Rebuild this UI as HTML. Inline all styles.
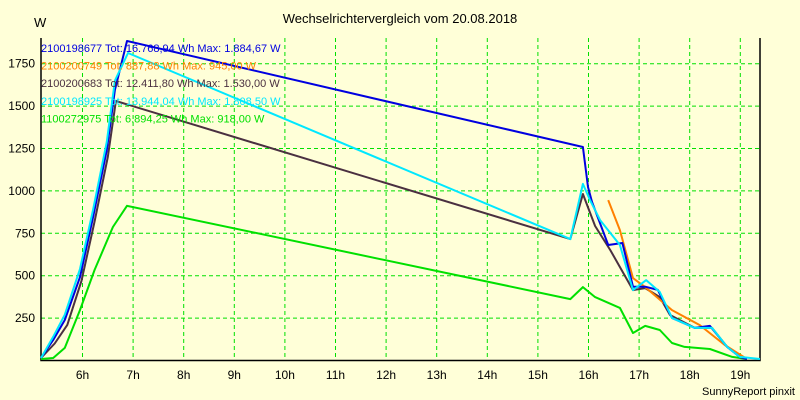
<!DOCTYPE html>
<html><head><meta charset="utf-8"><style>
body{margin:0;background:#ffffd8;}
svg{display:block;font-family:"Liberation Sans",sans-serif;}
</style></head><body>
<svg id="chart" width="800" height="400">
<rect x="0" y="0" width="800" height="400" fill="#ffffd8"/>
<text x="400" y="23" text-anchor="middle" font-size="13" fill="#000">Wechselrichtervergleich vom 20.08.2018</text>
<text x="34" y="27" font-size="13" fill="#000">W</text>
<text x="795" y="395" text-anchor="end" font-size="11" fill="#000">SunnyReport pinxit</text>
<g id="grid"></g><g id="axes"></g><g id="series"></g><g id="legend"></g>
</svg>
<script>
const yTicks=[250,500,750,1000,1250,1500,1750];
const xTicks=[6,7,8,9,10,11,12,13,14,15,16,17,18,19];
const seriesNames=["2100198677 Tot: 16.768,94 Wh Max: 1.884,67 W","2100200749 Tot: 887,88 Wh Max: 945,00 W","2100200683 Tot: 12.411,80 Wh Max: 1.530,00 W","2100198925 Tot: 13.944,04 Wh Max: 1.808,50 W","1100272975 Tot: 6.894,25 Wh Max: 918,00 W"];
const seriesColors=["#0000e0","#ff8000","#4a3040","#00e8ff","#00e000"];
const blueT=[5.18,5.42,5.65,5.95,6.21,6.48,6.64,6.88,15.89,15.99,16.07,16.39,16.67,16.88,17.12,17.37,17.65,18.1,18.4,18.74,18.99,19.13];
const blueV=[15,121,239,492,846,1241,1595,1884,1259,1023,935,681,693,435,435,416,251,192,204,80,21,9];
const orangeT=[16.39,16.62,16.88,17.12,17.65,18.2,18.69,19.13];
const orangeV=[946,769,486,433,297,209,92,9];
const darkT=[5.18,5.45,5.7,5.98,6.24,6.5,6.66,15.64,15.89,16.13,16.43,16.88,17.12,17.41,17.61,18.1,18.44,18.74,18.99,19.13];
const darkV=[15,100,210,470,820,1200,1530,716,982,793,651,415,427,374,268,192,192,80,21,9];
const cyanT=[5.18,5.42,5.65,5.95,6.21,6.48,6.64,6.9,15.64,15.89,16.03,16.23,16.62,16.88,17.14,17.41,17.65,18.1,18.44,18.74,18.99,19.39];
const cyanV=[15,140,270,540,890,1290,1650,1813,716,1041,946,828,681,415,474,404,251,192,192,80,21,9];
const greenT=[5.18,5.42,5.65,5.95,6.24,6.6,6.88,15.64,15.89,16.13,16.62,16.88,17.12,17.41,17.65,17.9,18.4,18.84,19.13];
const greenV=[9,15,74,298,534,787,912,362,433,374,310,162,204,180,103,80,68,21,9];
const seriesT=[blueT,orangeT,darkT,cyanT,greenT];
const seriesV=[blueV,orangeV,darkV,cyanV,greenV];
const drawOrder=[4,2,1,0,3];

const L=41,R=760,T=38,B=360.5;
const xS=h=>82.5+(h-6)*50.6;
const yS=v=>B-v*0.1696;
const NS="http://www.w3.org/2000/svg";
function mk(tag,attrs,parent){const e=document.createElementNS(NS,tag);for(const k in attrs)e.setAttribute(k,attrs[k]);parent.appendChild(e);return e;}
const grid=document.getElementById('grid'),axes=document.getElementById('axes'),ser=document.getElementById('series'),leg=document.getElementById('legend');
yTicks.forEach(v=>{
 const l=mk('line',{x1:L,x2:R,y1:yS(v),y2:yS(v),stroke:'#00e000','stroke-dasharray':'4,3'},grid);
 
 
 const t=mk('text',{x:35,y:yS(v)+4,'text-anchor':'end','font-size':'12',fill:'#000'},axes);
 t.textContent=v;
 
 
});
xTicks.forEach(h=>{
 const l=mk('line',{x1:xS(h),x2:xS(h),y1:T,y2:B,stroke:'#00e000','stroke-dasharray':'4,3'},grid);
 
 
 const t=mk('text',{x:xS(h),y:379,'text-anchor':'middle','font-size':'12',fill:'#000'},axes);
 t.textContent=h+'h';
 
 
});
const ax=mk('path',{d:`M${L},${T} V${B} H${R} V${T}`,fill:'none',stroke:'#000','stroke-width':1.5},axes);


drawOrder.forEach(i=>{
 const pts=seriesT[i].map((h,j)=>xS(h).toFixed(1)+','+yS(seriesV[i][j]).toFixed(1)).join(' ');
 const p=mk('polyline',{points:pts,fill:'none',stroke:seriesColors[i],'stroke-width':2,'stroke-linejoin':'round'},ser);
 
 
});
seriesNames.forEach((n,i)=>{
 const t=mk('text',{x:41,y:52+i*17.6,'font-size':'11',fill:seriesColors[i]},leg);
 t.textContent=n;
 
 
});
</script>
</body></html>
